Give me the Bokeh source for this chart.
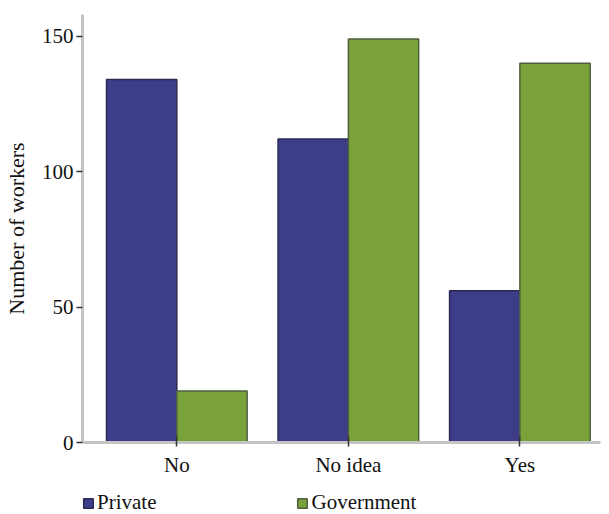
from bokeh.plotting import figure
from bokeh.layouts import column
from bokeh.models import ColumnDataSource, Range1d, FixedTicker, Legend, LegendItem
from bokeh.transform import dodge
from bokeh.embed import file_html
from bokeh.resources import INLINE

categories = ["No", "No idea", "Yes"]
private = [134, 112, 56]
government = [19, 149, 140]
y_ticks = [0, 50, 100, 150]
series_names = ["Private", "Government"]
series_fields = ["private", "government"]
series_colors = ["#3d3d8a", "#7aa23a"]
series_lines = ["#2a2a55", "#4f5f40"]

src = ColumnDataSource(dict(x=list(range(len(categories))), private=private, government=government))

p = figure(frame_width=518, frame_height=428, output_backend="svg", toolbar_location=None,
           x_range=Range1d(-0.55, 2.47), y_range=Range1d(0, 158))
p.min_border_left = 82
p.min_border_right = 9
p.min_border_top = 14
p.min_border_bottom = 38
p.outline_line_color = None
p.xgrid.grid_line_color = None
p.ygrid.grid_line_color = None

offsets = [-0.205, 0.205]
for field, off, fc, lc in zip(series_fields, offsets, series_colors, series_lines):
    p.vbar(x=dodge("x", off, range=p.x_range), top=field, width=0.41, source=src,
           fill_color=fc, line_color=lc, line_width=1.5)

font = "Liberation Serif"
p.xaxis.ticker = FixedTicker(ticks=list(range(len(categories))))
p.xaxis.major_label_overrides = {i: c for i, c in enumerate(categories)}
p.yaxis.ticker = FixedTicker(ticks=y_ticks)
p.yaxis.axis_label = "Number of workers"
for ax in (p.xaxis[0], p.yaxis[0]):
    ax.axis_line_color = "#c4c4c4"
    ax.axis_line_width = 3
    ax.major_tick_line_color = "#333333"
    ax.major_tick_line_width = 1.5
    ax.major_tick_in = 0
    ax.major_tick_out = 6
    ax.minor_tick_line_color = None
    ax.major_label_text_font = font
    ax.major_label_text_font_size = "21px"
    ax.major_label_text_color = "#111111"
    ax.axis_label_text_font = font
    ax.axis_label_text_font_style = "normal"
    ax.axis_label_text_font_size = "22px"
    ax.axis_label_text_color = "#111111"
p.xaxis.major_tick_in = 6
p.xaxis.major_tick_out = 4
p.xaxis.major_label_standoff = 6
p.yaxis.major_label_standoff = 3
p.yaxis.axis_label_standoff = 10

# legend strip below the chart (hidden renderers only supply legend swatches)
p2 = figure(width=609, height=34, output_backend="svg", toolbar_location=None,
            x_axis_type=None, y_axis_type=None, x_range=Range1d(-0.55, 2.47), y_range=Range1d(0, 158))
p2.min_border = 0
p2.outline_line_color = None
p2.xgrid.grid_line_color = None
p2.ygrid.grid_line_color = None
items = []
for name, field, fc, lc in zip(series_names, series_fields, series_colors, series_lines):
    r = p2.vbar(x="x", top=field, width=0.41, source=src, fill_color=fc, line_color=lc,
                line_width=1.5, visible=False)
    items.append(LegendItem(label=name, renderers=[r]))

legend = Legend(items=items, orientation="horizontal", location=(0, -1))
legend.label_text_font = font
legend.label_text_font_size = "21px"
legend.label_text_color = "#111111"
legend.glyph_width = 12
legend.glyph_height = 12
legend.label_standoff = 3
legend.spacing = 140
legend.padding = 0
legend.margin = 0
legend.border_line_color = None
legend.background_fill_alpha = 0
legend.inactive_fill_alpha = 0
p2.add_layout(legend)

layout = column(p, p2, spacing=0)
open("out.html", "w").write(file_html(layout, INLINE))
